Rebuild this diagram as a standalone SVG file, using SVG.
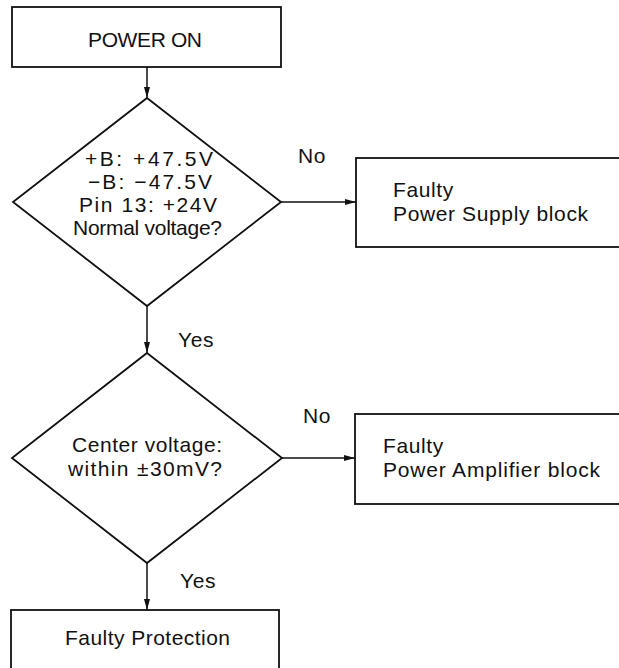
<svg xmlns="http://www.w3.org/2000/svg" width="619" height="668" viewBox="0 0 619 668">
  <defs>
    <marker id="arrow" markerUnits="userSpaceOnUse" markerWidth="12" markerHeight="7" refX="11" refY="3" orient="auto">
      <path d="M0,0 L11,3 L0,6 Z" fill="#111"/>
    </marker>
    <style>
      .shape { fill: #fff; stroke: #111; stroke-width: 1.8; }
      .conn { fill: none; stroke: #111; stroke-width: 1.5; marker-end: url(#arrow); }
      text { font-family: "Liberation Sans", Arial, Helvetica, sans-serif; font-size: 21px; fill: #111; }
      .ls { letter-spacing: 0.6px; }
    </style>
  </defs>
  <rect width="619" height="668" fill="#fff"/>

  <g id="connectors">
    <line class="conn" x1="147" y1="67" x2="147" y2="98"/>
    <line class="conn" x1="281" y1="202" x2="356" y2="202"/>
    <line class="conn" x1="147" y1="306" x2="147" y2="353"/>
    <line class="conn" x1="282" y1="458" x2="355" y2="458"/>
    <line class="conn" x1="147" y1="563" x2="147" y2="610"/>
    <text class="ls" x="298" y="163">No</text>
    <text class="ls" x="178" y="347">Yes</text>
    <text class="ls" x="303" y="423">No</text>
    <text class="ls" x="180" y="588">Yes</text>
  </g>

  <g id="power-on">
    <rect class="shape" x="12" y="7" width="269" height="60"/>
    <text x="88" y="47" textLength="114" lengthAdjust="spacing">POWER ON</text>
  </g>

  <g id="check-voltage">
    <polygon class="shape" points="147,98 281,202 147,306 13,202"/>
    <text x="85" y="166" textLength="128" lengthAdjust="spacing">+B: +47.5V</text>
    <text x="88" y="189" textLength="124" lengthAdjust="spacing">−B: −47.5V</text>
    <text x="79" y="212" textLength="138" lengthAdjust="spacing">Pin 13: +24V</text>
    <text x="73" y="235" textLength="149" lengthAdjust="spacing">Normal voltage?</text>
  </g>

  <g id="faulty-power-supply">
    <rect class="shape" x="356" y="158" width="270" height="89"/>
    <text class="ls" x="393" y="197">Faulty</text>
    <text x="393" y="221" textLength="195" lengthAdjust="spacing">Power Supply block</text>
  </g>

  <g id="check-center">
    <polygon class="shape" points="147,353 282,458 147,563 12,458"/>
    <text x="72" y="452" textLength="150" lengthAdjust="spacing">Center voltage:</text>
    <text x="68" y="476" textLength="154" lengthAdjust="spacing">within ±30mV?</text>
  </g>

  <g id="faulty-power-amplifier">
    <rect class="shape" x="355" y="414" width="271" height="90"/>
    <text class="ls" x="383" y="453">Faulty</text>
    <text x="383" y="477" textLength="217" lengthAdjust="spacing">Power Amplifier block</text>
  </g>

  <g id="faulty-protection">
    <rect class="shape" x="11" y="610" width="268" height="70"/>
    <text x="65" y="645" textLength="165" lengthAdjust="spacing">Faulty Protection</text>
  </g>
</svg>
